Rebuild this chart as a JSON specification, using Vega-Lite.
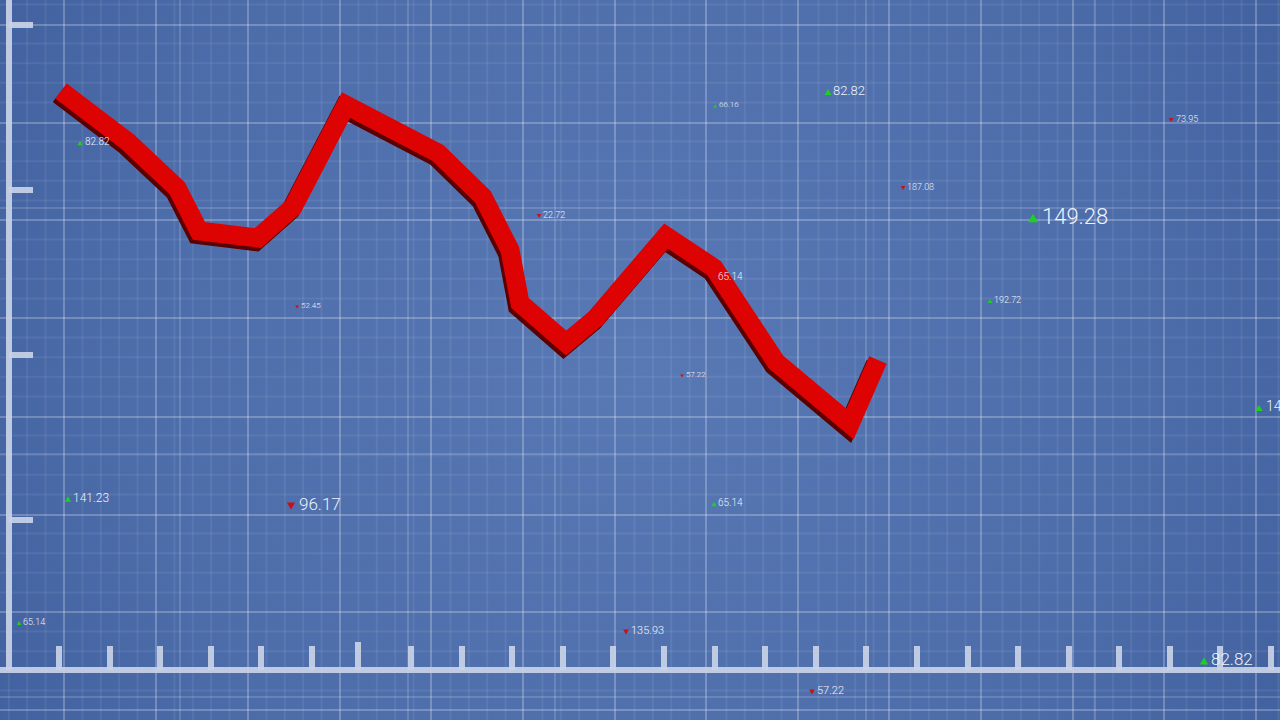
{
  "$schema": "https://vega.github.io/schema/vega-lite/v6.json",
  "width": 1280,
  "height": 720,
  "padding": 0,
  "autosize": {"type": "fit", "contains": "padding"},
  "config": {
    "view": {
      "stroke": null,
      "fill": {"gradient": "radial", "x1": 0.5, "y1": 0.5, "r1": 0, "x2": 0.5, "y2": 0.5, "r2": 0.72,
        "stops": [{"offset": 0, "color": "#5979b5"}, {"offset": 0.55, "color": "#4c6caa"}, {"offset": 1, "color": "#3a5897"}]}
    },
    "background": "#3f5e9c"
  },
  "datasets": {
    "grid": [
      {"d":"v","l":"major","v":6.4},{"d":"v","l":"major","v":15.6},{"d":"v","l":"major","v":24.8},{"d":"v","l":"major","v":34.0},{"d":"v","l":"major","v":43.1},{"d":"v","l":"major","v":52.3},{"d":"v","l":"major","v":61.5},{"d":"v","l":"major","v":70.6},{"d":"v","l":"major","v":79.8},{"d":"v","l":"major","v":88.9},{"d":"v","l":"major","v":98.1},{"d":"v","l":"major","v":107.3},{"d":"v","l":"major","v":116.4},{"d":"v","l":"major","v":125.6},
      {"d":"v","l":"sec","v":18.0},{"d":"v","l":"sec","v":40.8},{"d":"v","l":"sec","v":55.5},{"d":"v","l":"sec","v":86.6},{"d":"v","l":"sec","v":109.5},
      {"d":"h","l":"major","v":69.5},{"d":"h","l":"major","v":59.7},{"d":"h","l":"major","v":50.0},{"d":"h","l":"major","v":40.2},{"d":"h","l":"major","v":30.3},{"d":"h","l":"major","v":20.5},{"d":"h","l":"major","v":10.8},{"d":"h","l":"major","v":1.0},
      {"d":"h","l":"sec","v":51.2},{"d":"h","l":"sec","v":26.6},{"d":"h","l":"sec","v":2.3},
      {"d":"v","l":"fine","v":0.88},{"d":"v","l":"fine","v":2.72},{"d":"v","l":"fine","v":4.56},{"d":"v","l":"fine","v":8.24},{"d":"v","l":"fine","v":10.08},{"d":"v","l":"fine","v":11.92},{"d":"v","l":"fine","v":13.76},{"d":"v","l":"fine","v":17.44},{"d":"v","l":"fine","v":19.28},{"d":"v","l":"fine","v":21.12},{"d":"v","l":"fine","v":22.96},{"d":"v","l":"fine","v":26.64},{"d":"v","l":"fine","v":28.48},{"d":"v","l":"fine","v":30.32},{"d":"v","l":"fine","v":32.16},{"d":"v","l":"fine","v":35.84},{"d":"v","l":"fine","v":37.68},{"d":"v","l":"fine","v":39.52},{"d":"v","l":"fine","v":41.36},{"d":"v","l":"fine","v":45.04},{"d":"v","l":"fine","v":46.88},{"d":"v","l":"fine","v":48.72},{"d":"v","l":"fine","v":50.56},{"d":"v","l":"fine","v":54.24},{"d":"v","l":"fine","v":56.08},{"d":"v","l":"fine","v":57.92},{"d":"v","l":"fine","v":59.76},{"d":"v","l":"fine","v":63.44},{"d":"v","l":"fine","v":65.28},{"d":"v","l":"fine","v":67.12},{"d":"v","l":"fine","v":68.96},{"d":"v","l":"fine","v":72.64},{"d":"v","l":"fine","v":74.48},{"d":"v","l":"fine","v":76.32},{"d":"v","l":"fine","v":78.16},{"d":"v","l":"fine","v":81.84},{"d":"v","l":"fine","v":83.68},{"d":"v","l":"fine","v":85.52},{"d":"v","l":"fine","v":87.36},{"d":"v","l":"fine","v":91.04},{"d":"v","l":"fine","v":92.88},{"d":"v","l":"fine","v":94.72},{"d":"v","l":"fine","v":96.56},{"d":"v","l":"fine","v":100.24},{"d":"v","l":"fine","v":102.08},{"d":"v","l":"fine","v":103.92},{"d":"v","l":"fine","v":105.76},{"d":"v","l":"fine","v":109.44},{"d":"v","l":"fine","v":111.28},{"d":"v","l":"fine","v":113.12},{"d":"v","l":"fine","v":114.96},{"d":"v","l":"fine","v":118.64},{"d":"v","l":"fine","v":120.48},{"d":"v","l":"fine","v":122.32},{"d":"v","l":"fine","v":124.16},{"d":"v","l":"fine","v":127.84},
      {"d":"h","l":"fine","v":2.96},{"d":"h","l":"fine","v":4.92},{"d":"h","l":"fine","v":6.88},{"d":"h","l":"fine","v":8.84},{"d":"h","l":"fine","v":12.76},{"d":"h","l":"fine","v":14.72},{"d":"h","l":"fine","v":16.68},{"d":"h","l":"fine","v":18.64},{"d":"h","l":"fine","v":22.56},{"d":"h","l":"fine","v":24.52},{"d":"h","l":"fine","v":26.48},{"d":"h","l":"fine","v":28.44},{"d":"h","l":"fine","v":32.36},{"d":"h","l":"fine","v":34.32},{"d":"h","l":"fine","v":36.28},{"d":"h","l":"fine","v":38.24},{"d":"h","l":"fine","v":42.16},{"d":"h","l":"fine","v":44.12},{"d":"h","l":"fine","v":46.08},{"d":"h","l":"fine","v":48.04},{"d":"h","l":"fine","v":51.96},{"d":"h","l":"fine","v":53.92},{"d":"h","l":"fine","v":55.88},{"d":"h","l":"fine","v":57.84},{"d":"h","l":"fine","v":61.76},{"d":"h","l":"fine","v":63.72},{"d":"h","l":"fine","v":65.68},{"d":"h","l":"fine","v":67.64},{"d":"h","l":"fine","v":71.56}
    ],
    "frame": [
      {"part":"leftbar","x":0.9,"x2":0.9,"y":5.0,"y2":72},
      {"part":"bottombar","x":0,"x2":128,"y":5.0,"y2":5.0},
      {"part":"ytick","x":0.9,"x2":3.3,"y":69.5,"y2":69.5},
      {"part":"ytick","x":0.9,"x2":3.3,"y":53.0,"y2":53.0},
      {"part":"ytick","x":0.9,"x2":3.3,"y":36.5,"y2":36.5},
      {"part":"ytick","x":0.9,"x2":3.3,"y":20.0,"y2":20.0},
      {"part":"xtick","x":5.9,"x2":5.9,"y":5.0,"y2":7.4},
      {"part":"xtick","x":11.0,"x2":11.0,"y":5.0,"y2":7.4},
      {"part":"xtick","x":16.0,"x2":16.0,"y":5.0,"y2":7.4},
      {"part":"xtick","x":21.1,"x2":21.1,"y":5.0,"y2":7.4},
      {"part":"xtick","x":26.1,"x2":26.1,"y":5.0,"y2":7.4},
      {"part":"xtick","x":31.2,"x2":31.2,"y":5.0,"y2":7.4},
      {"part":"xtick","x":35.8,"x2":35.8,"y":5.0,"y2":7.8},
      {"part":"xtick","x":41.1,"x2":41.1,"y":5.0,"y2":7.4},
      {"part":"xtick","x":46.2,"x2":46.2,"y":5.0,"y2":7.4},
      {"part":"xtick","x":51.2,"x2":51.2,"y":5.0,"y2":7.4},
      {"part":"xtick","x":56.3,"x2":56.3,"y":5.0,"y2":7.4},
      {"part":"xtick","x":61.3,"x2":61.3,"y":5.0,"y2":7.4},
      {"part":"xtick","x":66.4,"x2":66.4,"y":5.0,"y2":7.4},
      {"part":"xtick","x":71.5,"x2":71.5,"y":5.0,"y2":7.4},
      {"part":"xtick","x":76.5,"x2":76.5,"y":5.0,"y2":7.4},
      {"part":"xtick","x":81.6,"x2":81.6,"y":5.0,"y2":7.4},
      {"part":"xtick","x":86.6,"x2":86.6,"y":5.0,"y2":7.4},
      {"part":"xtick","x":91.7,"x2":91.7,"y":5.0,"y2":7.4},
      {"part":"xtick","x":96.8,"x2":96.8,"y":5.0,"y2":7.4},
      {"part":"xtick","x":101.8,"x2":101.8,"y":5.0,"y2":7.4},
      {"part":"xtick","x":106.9,"x2":106.9,"y":5.0,"y2":7.4},
      {"part":"xtick","x":111.9,"x2":111.9,"y":5.0,"y2":7.4},
      {"part":"xtick","x":117.0,"x2":117.0,"y":5.0,"y2":7.4},
      {"part":"xtick","x":122.0,"x2":122.0,"y":5.0,"y2":7.4},
      {"part":"xtick","x":127.1,"x2":127.1,"y":5.0,"y2":7.4}
    ],
    "series": [
      {"i":1,"x":6.1,"y":62.9},{"i":2,"x":12.8,"y":57.8},{"i":3,"x":17.7,"y":53.2},{"i":4,"x":19.9,"y":48.9},{"i":5,"x":25.8,"y":48.2},{"i":6,"x":29.3,"y":51.3},{"i":7,"x":34.6,"y":61.5},{"i":8,"x":43.8,"y":56.7},{"i":9,"x":48.3,"y":52.3},{"i":10,"x":51.0,"y":47.0},{"i":11,"x":52.0,"y":41.7},{"i":12,"x":56.6,"y":37.7},{"i":13,"x":59.6,"y":40.2},{"i":14,"x":66.6,"y":48.4},{"i":15,"x":71.4,"y":45.2},{"i":16,"x":77.6,"y":35.8},{"i":17,"x":85.0,"y":29.6},{"i":18,"x":87.8,"y":36.0}
    ],
    "quotes": [
      {"label":"82.82","dir":"up","x":8.0,"tx":8.5,"y":57.7,"p":3},
      {"label":"66.16","dir":"up","x":71.5,"tx":71.9,"y":61.4,"p":1},
      {"label":"82.82","dir":"up","x":82.8,"tx":83.3,"y":62.8,"p":6},
      {"label":"187.08","dir":"down","x":90.3,"tx":90.7,"y":53.2,"p":2},
      {"label":"73.95","dir":"down","x":117.1,"tx":117.6,"y":60.0,"p":2},
      {"label":"149.28","dir":"up","x":103.3,"tx":104.2,"y":50.2,"p":15},
      {"label":"22.72","dir":"down","x":53.9,"tx":54.3,"y":50.4,"p":2},
      {"label":"65.14","dir":"down","x":71.4,"tx":71.8,"y":44.2,"p":3},
      {"label":"192.72","dir":"up","x":99.0,"tx":99.4,"y":41.9,"p":2},
      {"label":"52.45","dir":"down","x":29.7,"tx":30.1,"y":41.3,"p":1},
      {"label":"57.22","dir":"down","x":68.2,"tx":68.6,"y":34.4,"p":1},
      {"label":"149.28","dir":"up","x":125.9,"tx":126.6,"y":31.2,"p":7},
      {"label":"141.23","dir":"up","x":6.8,"tx":7.3,"y":22.1,"p":5},
      {"label":"96.17","dir":"down","x":29.1,"tx":29.9,"y":21.4,"p":10},
      {"label":"65.14","dir":"up","x":71.4,"tx":71.8,"y":21.6,"p":3},
      {"label":"65.14","dir":"up","x":1.9,"tx":2.3,"y":9.7,"p":2},
      {"label":"135.93","dir":"down","x":62.6,"tx":63.1,"y":8.8,"p":4},
      {"label":"57.22","dir":"down","x":81.2,"tx":81.7,"y":2.8,"p":4},
      {"label":"82.82","dir":"up","x":120.4,"tx":121.1,"y":5.9,"p":10}
    ]
  },
  "resolve": {"scale": {"x": "independent", "y": "independent", "size": "independent", "color": "independent"}},
  "layer": [
    {
      "data": {"name": "grid"},
      "transform": [{"filter": "datum.d === 'v' && datum.l === 'fine'"}],
      "mark": {"type": "rule", "color": "#ffffff", "opacity": 0.07, "strokeWidth": 2, "clip": true},
      "encoding": {"x": {"field": "v", "type": "quantitative", "scale": {"domain": [0, 128], "nice": false, "zero": false}, "axis": null}}
    },
    {
      "data": {"name": "grid"},
      "transform": [{"filter": "datum.d === 'h' && datum.l === 'fine'"}],
      "mark": {"type": "rule", "color": "#ffffff", "opacity": 0.07, "strokeWidth": 2, "clip": true},
      "encoding": {"y": {"field": "v", "type": "quantitative", "scale": {"domain": [0, 72], "nice": false, "zero": false}, "axis": null}}
    },
    {
      "data": {"name": "grid"},
      "transform": [{"filter": "datum.d === 'v' && datum.l !== 'fine'"}],
      "mark": {"type": "rule", "color": "#ffffff", "strokeWidth": 1.5, "clip": true},
      "encoding": {
        "x": {"field": "v", "type": "quantitative", "scale": {"domain": [0, 128], "nice": false, "zero": false}, "axis": null},
        "opacity": {"field": "l", "type": "nominal", "scale": {"domain": ["major", "sec"], "range": [0.32, 0.2]}, "legend": null}
      }
    },
    {
      "data": {"name": "grid"},
      "transform": [{"filter": "datum.d === 'h' && datum.l !== 'fine'"}],
      "mark": {"type": "rule", "color": "#ffffff", "strokeWidth": 1.5, "clip": true},
      "encoding": {
        "y": {"field": "v", "type": "quantitative", "scale": {"domain": [0, 72], "nice": false, "zero": false}, "axis": null},
        "opacity": {"field": "l", "type": "nominal", "scale": {"domain": ["major", "sec"], "range": [0.32, 0.2]}, "legend": null}
      }
    },
    {
      "data": {"name": "frame"},
      "mark": {"type": "rule", "color": "#c9d3e7", "opacity": 0.92, "strokeWidth": 6, "clip": true},
      "encoding": {
        "x": {"field": "x", "type": "quantitative", "scale": {"domain": [0, 128], "nice": false, "zero": false}, "axis": null},
        "x2": {"field": "x2"},
        "y": {"field": "y", "type": "quantitative", "scale": {"domain": [0, 72], "nice": false, "zero": false}, "axis": null},
        "y2": {"field": "y2"}
      }
    },
    {
      "data": {"name": "series"},
      "mark": {"type": "line", "color": "#5a0000", "strokeWidth": 19, "strokeJoin": "miter", "strokeCap": "butt", "clip": true},
      "encoding": {
        "x": {"field": "x", "type": "quantitative", "scale": {"domain": [0.25, 128.25], "nice": false, "zero": false}, "axis": null},
        "y": {"field": "y", "type": "quantitative", "scale": {"domain": [0.35, 72.35], "nice": false, "zero": false}, "axis": null},
        "order": {"field": "i"}
      }
    },
    {
      "data": {"name": "series"},
      "mark": {"type": "line", "color": "#dd0303", "strokeWidth": 19, "strokeJoin": "miter", "strokeCap": "butt", "clip": true},
      "encoding": {
        "x": {"field": "x", "type": "quantitative", "scale": {"domain": [0, 128], "nice": false, "zero": false}, "axis": null},
        "y": {"field": "y", "type": "quantitative", "scale": {"domain": [0, 72], "nice": false, "zero": false}, "axis": null},
        "order": {"field": "i"}
      }
    },
    {
      "data": {"name": "quotes"},
      "mark": {"type": "point", "filled": true, "opacity": 1, "strokeWidth": 0, "clip": true},
      "encoding": {
        "x": {"field": "x", "type": "quantitative", "scale": {"domain": [0, 128], "nice": false, "zero": false}, "axis": null},
        "y": {"field": "y", "type": "quantitative", "scale": {"domain": [0, 72], "nice": false, "zero": false}, "axis": null},
        "shape": {"field": "dir", "type": "nominal", "scale": {"domain": ["up", "down"], "range": ["triangle-up", "triangle-down"]}, "legend": null},
        "color": {"field": "dir", "type": "nominal", "scale": {"domain": ["up", "down"], "range": ["#1fd11f", "#c8101a"]}, "legend": null},
        "size": {"field": "p", "type": "quantitative", "scale": {"domain": [1, 15], "range": [14, 100], "zero": false}, "legend": null}
      }
    },
    {
      "data": {"name": "quotes"},
      "mark": {"type": "text", "align": "left", "baseline": "middle", "font": "Roboto", "fontWeight": 300, "color": "#eef2fb", "dy": -1, "clip": true},
      "encoding": {
        "x": {"field": "tx", "type": "quantitative", "scale": {"domain": [0, 128], "nice": false, "zero": false}, "axis": null},
        "y": {"field": "y", "type": "quantitative", "scale": {"domain": [0, 72], "nice": false, "zero": false}, "axis": null},
        "text": {"field": "label"},
        "size": {"field": "p", "type": "quantitative", "scale": {"domain": [1, 15], "range": [8, 22], "zero": false}, "legend": null}
      }
    }
  ]
}
